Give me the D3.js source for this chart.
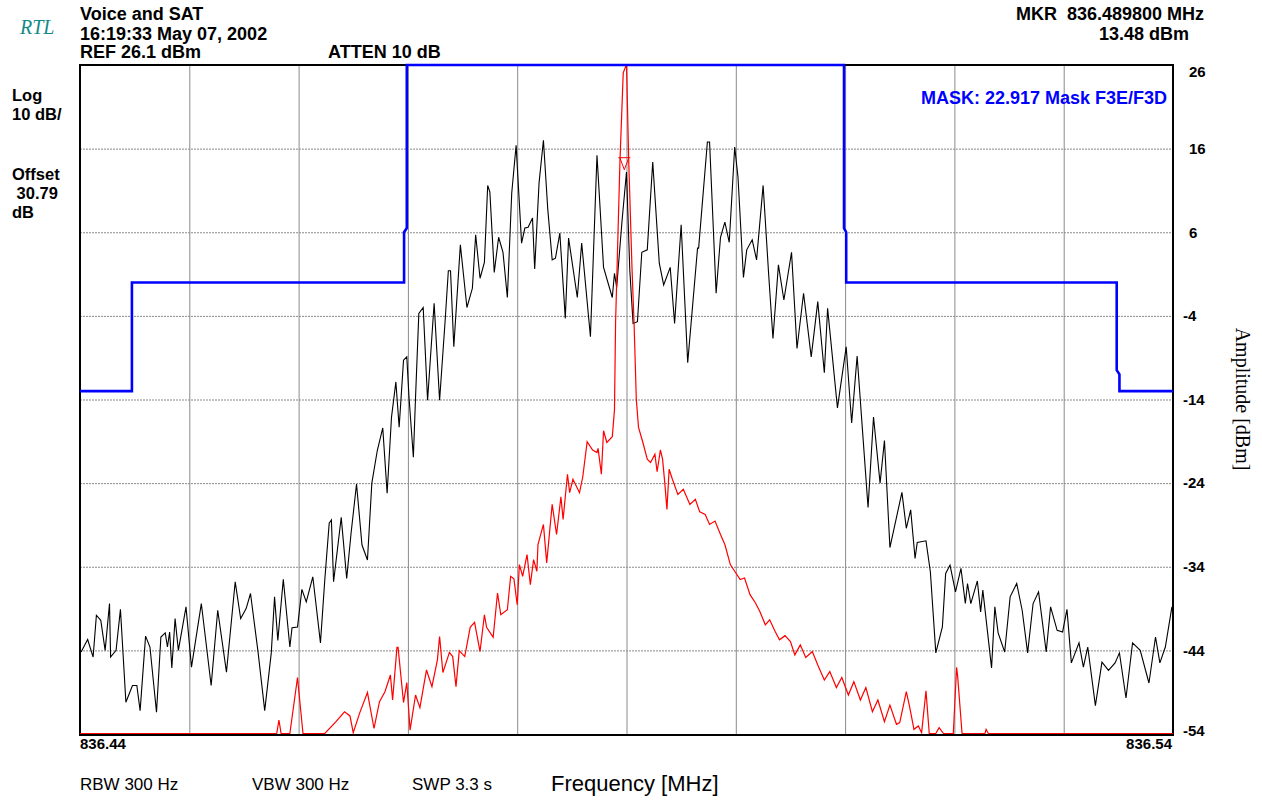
<!DOCTYPE html>
<html lang="en">
<head>
    <meta charset="UTF-8">
    <title>Voice and SAT</title>
    <script src="https://d3js.org/d3.v7.min.js"></script>
    <style>
        body { margin: 0; background: #fff; }
        svg text { font-family: "Liberation Sans", Arial, sans-serif; fill: #000; }
        .hdr { font-size: 18px; font-weight: bold; }
        .side { font-size: 16.5px; font-weight: bold; }
        .ytick { font-size: 15px; font-weight: bold; }
        .xend { font-size: 15px; font-weight: bold; }
        .foot { font-size: 17px; }
    </style>
</head>
<body>
<script>
    // frequency axis in kHz above the start 836.44 MHz, amplitude in dBm
    var startMHz = 836.44;
    var stopMHz = 836.54;
    var yTicks = [26, 16, 6, -4, -14, -24, -34, -44, -54];
    var xGrid = [0, 10, 20, 30, 40, 50, 60, 70, 80, 90, 100];

    // voice + SAT trace (black)
    var voiceKHz = [0.1,0.7,1.2,1.5,1.9,2.3,2.7,2.8,3.3,3.7,4.2,4.8,5.2,5.5,6.0,6.4,7.0,7.4,7.8,8.0,
        8.2,8.4,8.7,9.0,9.7,10.2,11.1,12.0,12.6,13.4,14.2,14.7,15.2,15.6,16.3,16.9,17.5,17.8,18.1,18.6,
        19.2,19.4,19.9,20.3,20.7,21.3,22.0,22.4,22.8,23.0,23.2,23.9,24.4,24.8,25.3,25.8,26.3,26.7,27.2,27.7,
        28.1,28.5,28.9,29.2,29.6,29.9,30.1,30.5,30.7,31.0,31.4,31.8,32.4,32.9,33.4,33.7,33.9,34.2,34.8,35.4,
        35.9,36.2,36.6,37.0,37.3,37.5,37.9,38.3,38.7,39.1,39.5,39.9,40.4,40.7,41.0,41.4,41.6,42.0,42.4,42.8,
        43.2,43.5,43.9,44.4,44.7,45.5,45.9,46.7,47.3,47.9,48.7,48.9,49.1,49.6,50.0,50.3,50.6,51.0,51.4,51.9,
        52.4,53.0,53.4,54.0,54.4,55.0,55.6,56.5,56.6,57.4,57.6,58.2,58.6,59.0,59.4,59.9,60.2,60.7,61.0,61.5,
        61.9,62.5,63.0,63.4,63.9,64.4,65.1,65.6,66.2,66.9,67.5,68.1,68.4,69.3,70.1,70.6,71.1,72.1,72.6,73.2,
        73.6,74.1,75.2,75.6,76.0,76.4,76.6,77.4,77.8,78.3,78.9,79.2,79.6,80.1,80.6,81.0,81.2,81.5,82.1,82.4,
        82.6,83.4,83.7,84.0,84.6,85.1,85.7,86.2,86.7,87.2,87.7,88.4,88.8,89.4,89.9,90.3,90.7,91.4,91.8,92.2,
        92.9,93.5,94.1,94.7,95.1,95.7,96.3,97.0,97.8,98.4,98.8,99.3,99.9];
    var voiceDbm = [-44.2,-42.7,-44.8,-39.8,-40.4,-44.0,-38.4,-44.8,-44.0,-39.1,-50.2,-48.2,-48.2,-51.2,-42.3,-43.6,-51.4,-42.4,-41.9,-43.6,
        -41.8,-46.1,-40.2,-44.0,-38.8,-46.0,-38.4,-48.2,-39.2,-46.6,-35.8,-40.2,-39.0,-37.2,-44.3,-51.2,-44.3,-37.6,-42.8,-35.5,
        -43.6,-41.3,-41.2,-36.7,-38.2,-35.2,-43.1,-35.5,-28.8,-28.4,-35.8,-28.1,-35.4,-30.0,-24.1,-31.4,-33.2,-24.0,-20.1,-17.4,
        -25.2,-16.1,-11.9,-17.3,-9.3,-8.9,-13.7,-20.9,-13.7,-3.7,-3.0,-14.1,-2.5,-14.1,-4.7,1.4,1.4,-7.7,4.5,-3.0,
        -0.7,5.7,0.5,2.4,11.6,10.8,1.2,5.4,3.6,-1.8,10.7,16.4,4.7,6.5,6.6,7.7,1.6,11.9,17.0,8.7,
        2.7,2.9,5.9,-4.3,5.3,-1.8,4.7,-6.5,15.2,1.8,-1.8,1.1,-0.6,7.5,13.2,1.5,-4.9,-4.7,3.6,3.9,
        14.4,2.3,-0.3,1.8,-4.9,6.9,-9.6,4.1,4.1,16.8,16.8,-1.3,5.4,7.2,4.8,16.2,12.6,0.6,3.9,5.1,
        2.7,11.6,1.1,-6.7,2.1,-2.1,3.6,-7.9,-1.3,-8.9,-2.3,-10.8,-3.1,-15.0,-7.7,-16.8,-8.8,-26.9,-16.1,-24.0,
        -18.9,-31.7,-25.1,-29.4,-27.2,-33.0,-31.1,-30.9,-34.6,-44.3,-41.2,-34.8,-33.8,-37.0,-34.2,-38.4,-36.0,-38.4,-35.7,-39.4,
        -36.8,-46.1,-38.8,-41.9,-44.2,-37.6,-36.0,-39.2,-44.3,-38.4,-37.0,-44.2,-38.8,-41.6,-41.8,-39.1,-45.5,-43.1,-46.0,-43.6,
        -50.6,-45.4,-46.4,-45.5,-44.3,-49.7,-43.1,-44.0,-47.9,-42.4,-45.5,-43.6,-38.8];

    // unmodulated carrier trace (red)
    var carrierKHz = [0,18.0,18.2,18.4,19.2,19.9,20.4,22.4,23.4,24.2,24.7,25.0,25.6,26.3,26.9,27.4,27.9,28.4,28.6,29.0,
        29.1,29.6,29.9,30.2,30.7,31.1,31.7,32.2,32.7,32.9,33.2,33.8,34.1,34.4,34.7,35.2,35.7,36.1,36.6,37.0,
        37.2,37.8,38.2,38.5,39.1,39.4,39.7,40.0,40.2,40.5,40.9,41.2,41.5,41.8,41.9,42.4,42.7,43.2,43.6,44.0,
        44.2,44.6,44.8,45.1,45.7,46.0,46.4,46.9,47.3,47.4,47.7,47.9,48.2,48.7,48.9,49.0,49.4,49.7,50.0,50.2,
        50.5,50.7,50.9,51.1,51.5,51.9,52.2,52.6,52.8,53.1,53.3,53.5,53.7,53.9,54.2,54.7,55.2,55.8,56.3,56.7,
        57.2,57.6,58.1,58.6,59.0,59.5,59.9,60.4,60.8,61.3,61.8,62.2,62.7,63.1,63.6,64.0,64.5,65.0,65.4,65.9,
        66.4,67.0,67.5,68.1,68.6,69.2,69.7,70.3,70.8,71.4,71.9,72.5,73.0,73.6,74.1,74.7,75.0,75.6,75.9,76.3,
        76.7,77.0,77.4,77.7,78.3,78.6,79.0,79.9,80.2,80.3,80.7,82.8,82.9,83.1,100];
    var carrierDbm = [-54,-54,-52.4,-54,-54,-47.3,-54,-54,-52.6,-51.4,-51.9,-53.9,-51.5,-49.1,-53.4,-50.2,-49.0,-47.0,-50.0,-43.7,
        -43.7,-50.3,-47.9,-53.6,-49.4,-50.9,-46.4,-48.4,-45.2,-42.4,-46.7,-44.3,-44.8,-48.4,-44.1,-44.8,-41.3,-40.7,-44.2,-39.8,
        -41.3,-42.5,-37.2,-39.8,-39.2,-35.2,-35.5,-38.6,-33.8,-35.2,-32.6,-36.2,-33.2,-34.6,-31.4,-29.0,-33.6,-26.6,-30.2,-25.7,
        -28.4,-23.0,-25.2,-23.6,-25.2,-23.3,-19.1,-20.1,-20.4,-19.9,-23.0,-17.8,-19.2,-18.5,-15.3,-4.9,14.4,25.0,26.0,14.6,
        1.8,-5.3,-14.1,-17.4,-19.2,-21.2,-21.6,-20.6,-22.7,-20.1,-21.2,-24.0,-27.2,-22.4,-23.6,-25.4,-24.8,-26.6,-26.0,-27.5,
        -27.8,-29.0,-28.6,-30.2,-31.4,-33.8,-34.6,-35.6,-35.4,-37.4,-38.4,-39.4,-41.0,-40.4,-41.8,-42.8,-42.3,-43.0,-44.6,-43.4,
        -44.9,-44.2,-45.8,-47.6,-46.6,-48.5,-47.3,-49.4,-47.8,-50.0,-48.5,-51.4,-50.0,-52.6,-50.6,-52.9,-52.7,-49.0,-50.8,-53.5,
        -53.1,-53.9,-48.9,-54,-54,-53.3,-54,-54,-46.1,-47.2,-54,-54,-53.5,-54,-54];

    // F3E/F3D emission mask (blue)
    var maskKHz = [0, 4.75, 4.75, 29.65, 29.65, 29.9, 29.9, 69.9, 69.9, 70.1, 70.1, 94.85, 94.85, 95.1, 95.1, 100];
    var maskDbm = [-13, -13, 0, 0, 6, 6.5, 26, 26, 6.5, 6, 0, 0, -10.5, -11, -13, -13];

    var markerKHz = 49.8;
    var markerDbm = 13.48;

    var w = 1262, h = 800;
    var plotL = 80, plotR = 1173, plotT = 65, plotB = 734;

    var svg = d3.select("body").append("svg")
        .attr("width", w)
        .attr("height", h);

    var xScale = d3.scaleLinear().domain([0, 100]).range([plotL, plotR]);
    var yScale = d3.scaleLinear().domain([-54, 26]).range([plotB, plotT]);

    svg.append("defs").append("clipPath").attr("id", "plot")
        .append("rect")
        .attr("x", plotL).attr("y", plotT - 2)
        .attr("width", plotR - plotL).attr("height", plotB - plotT + 3);

    // grid
    svg.append("g")
        .attr("transform", "translate(0," + plotB + ")")
        .call(d3.axisBottom(xScale).tickValues(xGrid).tickSize(-(plotB - plotT)).tickFormat(""))
        .call(function (g) {
            g.select(".domain").remove();
            g.selectAll("line").attr("stroke", "#8a8a8a");
        });
    svg.append("g")
        .attr("transform", "translate(" + plotL + ",0)")
        .call(d3.axisLeft(yScale).tickValues(yTicks).tickSize(-(plotR - plotL)).tickFormat(""))
        .call(function (g) {
            g.select(".domain").remove();
            g.selectAll("line").attr("stroke", "#8a8a8a").attr("stroke-dasharray", "2,1");
        });

    // frame (traces are drawn over it, as on the analyser screen)
    svg.append("rect")
        .attr("x", plotL).attr("y", plotT)
        .attr("width", plotR - plotL).attr("height", plotB - plotT + 1)
        .attr("fill", "none")
        .attr("stroke", "#000")
        .attr("stroke-width", 2);

    var plot = svg.append("g").attr("clip-path", "url(#plot)");

    var line = d3.line()
        .x(function (d) { return xScale(d[0]); })
        .y(function (d) { return yScale(d[1]); });

    plot.append("path")
        .datum(d3.zip(voiceKHz, voiceDbm))
        .attr("d", line)
        .attr("fill", "none")
        .attr("stroke", "#000")
        .attr("stroke-width", 1.1);

    plot.append("path")
        .datum(d3.zip(carrierKHz, carrierDbm))
        .attr("d", line)
        .attr("transform", "translate(0,-0.5)")
        .attr("fill", "none")
        .attr("stroke", "#ff0000")
        .attr("stroke-width", 1.2);

    plot.append("path")
        .datum(d3.zip(maskKHz, maskDbm))
        .attr("d", line)
        .attr("fill", "none")
        .attr("stroke", "#0000ff")
        .attr("stroke-width", 2.6);

    // marker
    var mx = xScale(markerKHz), my = yScale(markerDbm);
    svg.append("path")
        .attr("d", "M" + (mx - 6) + "," + (my - 12) + "H" + (mx + 6) +
            "M" + (mx - 4.5) + "," + (my - 12) + "L" + mx + "," + my + "L" + (mx + 4.5) + "," + (my - 12))
        .attr("fill", "none")
        .attr("stroke", "#ff0000")
        .attr("stroke-width", 1);

    // amplitude labels on the right
    svg.append("g").selectAll("text")
        .data(yTicks)
        .enter().append("text")
        .attr("class", "ytick")
        .attr("x", function (d) { return d < 0 ? plotR + 10 : plotR + 16; })
        .attr("y", function (d) { return Math.min(Math.max(yScale(d), 72), 731); })
        .attr("dy", "0.35em")
        .text(function (d) { return d; });

    svg.append("text")
        .attr("transform", "translate(1236,399) rotate(90)")
        .attr("text-anchor", "middle")
        .style("font-family", "'Liberation Serif', 'Times New Roman', serif")
        .style("font-size", "20px")
        .text("Amplitude [dBm]");

    svg.append("text").attr("class", "xend")
        .attr("x", plotL).attr("y", 749)
        .text(startMHz.toFixed(2));
    svg.append("text").attr("class", "xend")
        .attr("x", plotR - 1).attr("y", 749)
        .attr("text-anchor", "end")
        .text(stopMHz.toFixed(2));

    // header
    svg.append("text")
        .attr("x", 20).attr("y", 34)
        .style("font-family", "'Liberation Serif', 'Times New Roman', serif")
        .style("font-style", "italic")
        .style("font-size", "20px")
        .style("fill", "#138a8a")
        .text("RTL");
    svg.append("text").attr("class", "hdr").attr("x", 80).attr("y", 20).text("Voice and SAT");
    svg.append("text").attr("class", "hdr").attr("x", 80).attr("y", 40).text("16:19:33 May 07, 2002");
    svg.append("text").attr("class", "hdr").attr("x", 80).attr("y", 58).text("REF 26.1 dBm");
    svg.append("text").attr("class", "hdr").attr("x", 328).attr("y", 58).text("ATTEN 10 dB");
    svg.append("text").attr("class", "hdr").attr("x", 1204).attr("y", 20)
        .attr("text-anchor", "end").style("white-space", "pre").text("MKR  836.489800 MHz");
    svg.append("text").attr("class", "hdr").attr("x", 1189).attr("y", 40)
        .attr("text-anchor", "end").text("13.48 dBm");
    svg.append("text").attr("class", "hdr").attr("x", 1167).attr("y", 104)
        .attr("text-anchor", "end").style("fill", "#0000ff").text("MASK: 22.917 Mask F3E/F3D");

    // left side labels
    var sideLabels = [["Log", 101], ["10 dB/", 120], ["Offset", 180], ["\u00a030.79", 199], ["dB", 218]];
    svg.append("g").selectAll("text")
        .data(sideLabels)
        .enter().append("text")
        .attr("class", "side")
        .attr("x", 12)
        .attr("y", function (d) { return d[1]; })
        .text(function (d) { return d[0]; });

    // footer
    svg.append("text").attr("class", "foot").attr("x", 80).attr("y", 790).text("RBW 300 Hz");
    svg.append("text").attr("class", "foot").attr("x", 252).attr("y", 790).text("VBW 300 Hz");
    svg.append("text").attr("class", "foot").attr("x", 412).attr("y", 790).text("SWP 3.3 s");
    svg.append("text").attr("x", 551).attr("y", 791)
        .style("font-size", "22px")
        .text("Frequency [MHz]");
</script>
</body>
</html>
